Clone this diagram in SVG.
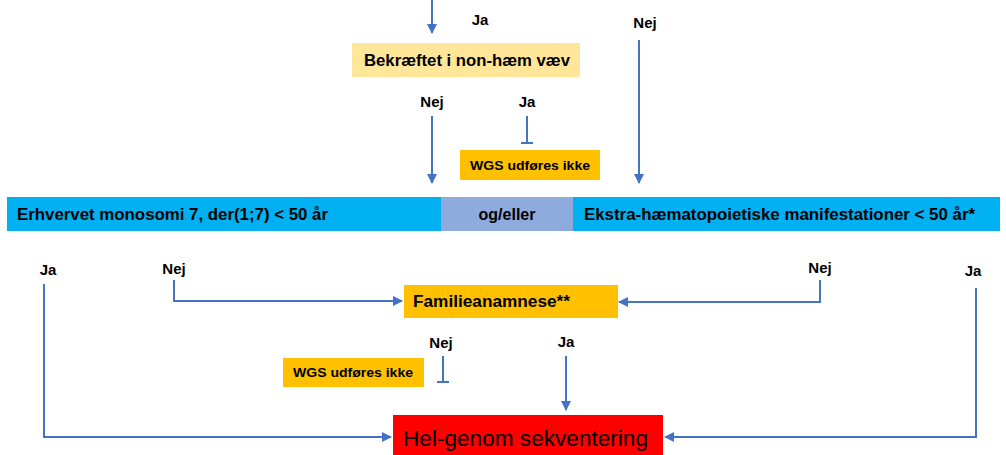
<svg xmlns="http://www.w3.org/2000/svg" width="1006" height="455" viewBox="0 0 1006 455">
<defs>
<marker id="ah" viewBox="0 0 10 10" refX="9" refY="5" markerWidth="5" markerHeight="5" orient="auto" markerUnits="strokeWidth"><path d="M0,0 L10,5 L0,10 z" fill="#4472C4"/></marker>
</defs>
<style>
.lbl{font-family:"Liberation Sans",Arial,sans-serif;font-weight:bold;font-size:15px;fill:#000}
.box{font-family:"Liberation Sans",Arial,sans-serif;font-weight:bold;fill:#000}
.ln{stroke:#4472C4;stroke-width:2;fill:none}
.arr{marker-end:url(#ah)}
</style>
<rect width="1006" height="455" fill="#fff"/>
<g id="connectors">
<path class="ln arr" d="M432,0 V33"/>
<path class="ln arr" d="M639,40 V183"/>
<path class="ln arr" d="M432,116 V183"/>
<path class="ln" d="M527,116 V143 M521,143 H533"/>
<path class="ln arr" d="M174,280 V301 H402"/>
<path class="ln arr" d="M820,280 V302 H619"/>
<path class="ln" d="M443,356 V382 M437,382 H449"/>
<path class="ln arr" d="M566,356 V410"/>
<path class="ln arr" d="M44,284 V437 H391"/>
<path class="ln arr" d="M976,288 V437 H665"/>
</g>
<g id="labels">
<text class="lbl" x="480" y="25" text-anchor="middle">Ja</text>
<text class="lbl" x="645" y="28" text-anchor="middle">Nej</text>
<text class="lbl" x="432" y="107" text-anchor="middle">Nej</text>
<text class="lbl" x="527" y="107" text-anchor="middle">Ja</text>
<text class="lbl" x="48" y="275" text-anchor="middle">Ja</text>
<text class="lbl" x="174" y="274" text-anchor="middle">Nej</text>
<text class="lbl" x="820" y="273" text-anchor="middle">Nej</text>
<text class="lbl" x="973" y="276" text-anchor="middle">Ja</text>
<text class="lbl" x="441" y="348" text-anchor="middle">Nej</text>
<text class="lbl" x="566" y="347" text-anchor="middle">Ja</text>
</g>
<g id="bekraeftet">
<rect x="352" y="43" width="228" height="34" fill="#FFE699"/>
<text class="box" x="364" y="66" font-size="16" textLength="206" lengthAdjust="spacingAndGlyphs">Bekræftet i non-hæm væv</text>
</g>
<g id="wgs1">
<rect x="460" y="150" width="140" height="30" fill="#FFC000"/>
<text class="box" x="470" y="170" font-size="13" textLength="120" lengthAdjust="spacingAndGlyphs">WGS udføres ikke</text>
</g>
<g id="erhvervet">
<rect x="7" y="197" width="434" height="34" fill="#00B0F0"/>
<text class="box" x="17" y="220" font-size="16" textLength="311" lengthAdjust="spacingAndGlyphs">Erhvervet monosomi 7, der(1;7) &lt; 50 år</text>
</g>
<g id="ogeller">
<rect x="441" y="197" width="132" height="34" fill="#8FAADC"/>
<text class="box" x="507" y="220" font-size="16" text-anchor="middle">og/eller</text>
</g>
<g id="ekstra">
<rect x="573" y="197" width="427" height="34" fill="#00B0F0"/>
<text class="box" x="584" y="220" font-size="16" textLength="391" lengthAdjust="spacingAndGlyphs">Ekstra-hæmatopoietiske manifestationer &lt; 50 år*</text>
</g>
<g id="familie">
<rect x="404" y="285" width="214" height="33" fill="#FFC000"/>
<text class="box" x="413" y="307" font-size="16" textLength="157" lengthAdjust="spacingAndGlyphs">Familieanamnese**</text>
</g>
<g id="wgs2">
<rect x="283" y="358" width="141" height="29" fill="#FFC000"/>
<text class="box" x="293" y="377" font-size="13" textLength="120" lengthAdjust="spacingAndGlyphs">WGS udføres ikke</text>
</g>
<g id="helgenom">
<rect x="393" y="415" width="270" height="45" fill="#FF0000"/>
<text x="403" y="446" font-family="'Liberation Sans',Arial,sans-serif" font-size="22" textLength="245" lengthAdjust="spacingAndGlyphs" fill="#000">Hel-genom sekventering</text>
</g>
</svg>
